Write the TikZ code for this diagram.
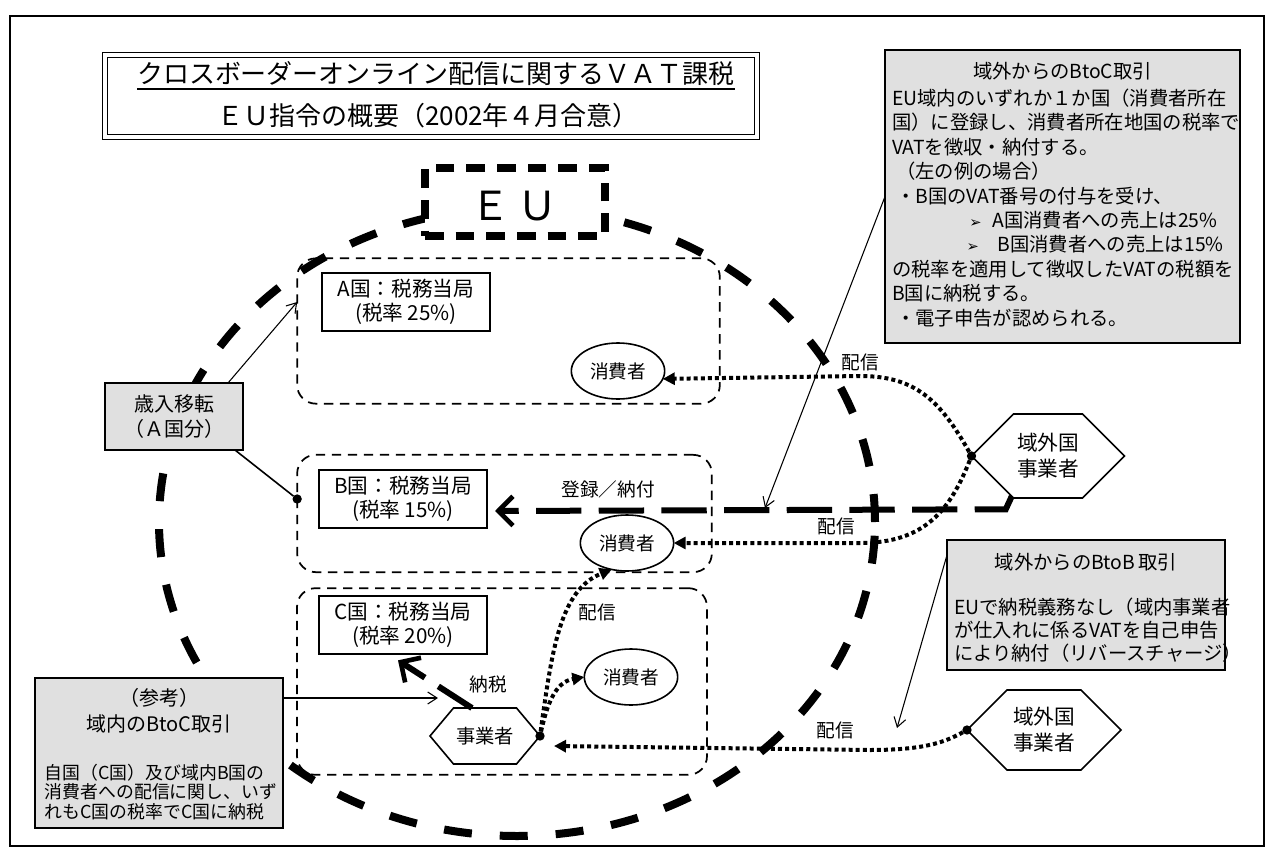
\documentclass[tikz,border=0pt]{standalone}
\usepackage{fontspec}
\setmainfont{Noto Sans CJK JP}
\newfontfamily\dejavu{DejaVu Sans}
\usetikzlibrary{arrows.meta,calc,shapes.geometric,shapes.symbols}
\begin{document}
\begin{tikzpicture}[x=0.75pt,y=-0.75pt,
  every node/.style={inner sep=0pt,outer sep=0pt},
  outerframe/.style={draw,line width=1.1pt},
  titlebox/.style={draw,line width=0.9pt,double=white,double distance=2.4pt,minimum width=489pt,minimum height=61.5pt},
  eubox/.style={draw,line width=5.5pt,dash pattern=on 14pt off 9pt,fill=white,minimum width=135pt,minimum height=51pt},
  bigring/.style={line width=6pt,dash pattern=on 21pt off 21pt},
  country/.style={draw,line width=1.3pt,dash pattern=on 7pt off 5pt,rounded corners=14pt},
  auth/.style={draw,line width=1.3pt,fill=white,minimum width=126pt,minimum height=44pt,align=center,font=\fontsize{15.5}{18}\selectfont},
  consumer/.style={draw,ellipse,line width=1.2pt,fill=white,minimum width=70pt,minimum height=42pt,font=\fontsize{14}{16}\selectfont},
  hexa/.style={draw,signal,signal to=east and west,line width=1.2pt,fill=white,align=center},
  note/.style={draw,line width=1.4pt,fill=black!12},
  ntext/.style={font=\fontsize{14.5}{18.3}\selectfont},
  lbl/.style={font=\fontsize{14}{16}\selectfont},
  thinarr/.style={line width=0.8pt,-{Straight Barb[length=7pt,width=9pt]}},
  thinline/.style={line width=1.2pt},
  dotarr/.style={line width=3pt,dash pattern=on 3pt off 2.3pt,-{Triangle[length=9pt,width=9pt]}},
  heavyarr/.style={line width=4.5pt,dash pattern=on 34pt off 13pt,-{Straight Barb[length=11pt,width=22pt,line width=3.5pt]}},
  blob/.style={fill,circle,minimum size=7pt},
]
\useasboundingbox (0,0) rectangle (1272,864);
% outer frame
\draw[outerframe] (10,16) rectangle (1264,846);
% big EU ring
\draw[bigring] (517,522) ellipse [x radius=268.5pt, y radius=235.5pt];
% title
\node[titlebox] (title) at (431,96) {};
\node[font=\fontsize{19.5}{22}\selectfont] (t1) at (436,74) {クロスボーダーオンライン配信に関するＶＡＴ課税};
\draw[line width=0.9pt] ($(t1.south west)+(0,3)$) -- ($(t1.south east)+(0,3)$);
\node[font=\fontsize{19.5}{22}\selectfont] (t2) at (428,116) {ＥＵ指令の概要（2002年４月合意）};
% EU box
\node[eubox] (eu) at (515,202) {};
\node[font=\fontsize{30}{32}\selectfont] (eut) at (514,206) {Ｅ\,Ｕ};
% country boxes
\node[country,minimum width=317pt,minimum height=109pt] (boxA) at (508.5,331) {};
\node[country,minimum width=311pt,minimum height=88pt] (boxB) at (504.5,513.5) {};
\node[country,minimum width=307.5pt,minimum height=140pt] (boxC) at (502,681.5) {};
% authorities
\node[auth] (authA) at (406,302) {A国：税務当局\\(税率 25\%)};
\node[auth] (authB) at (403,499) {B国：税務当局\\(税率 15\%)};
\node[auth] (authC) at (403,625) {C国：税務当局\\(税率 20\%)};
% consumers
\node[consumer] (consA) at (618,371) {消費者};
\node[consumer] (consB) at (627,543) {消費者};
\node[consumer] (consC) at (631,677) {消費者};
% businesses
\node[hexa,minimum width=114.75pt,minimum height=63pt,signal pointer angle=90,font=\fontsize{15.5}{19.5}\selectfont] (hexU) at (1048,456) {域外国\\事業者};
\node[hexa,minimum width=115.5pt,minimum height=60pt,signal pointer angle=90,font=\fontsize{15.5}{19.5}\selectfont] (hexL) at (1044,730) {域外国\\事業者};
\node[hexa,minimum width=82.5pt,minimum height=42pt,signal pointer angle=100,font=\fontsize{14.5}{17}\selectfont] (biz) at (485,736) {事業者};
% notes
\node[note,minimum width=266.25pt,minimum height=219.75pt] (btoc) at (1062.5,196.5) {};
\node[ntext,anchor=north] (btocH) at ($(btoc.north)+(0,12)$) {域外からのBtoC取引};
\node[ntext,anchor=north west,align=left] (btocB) at ($(btoc.north west)+(7,39)$) {EU域内のいずれか１か国（消費者所在\\国）に登録し、消費者所在地国の税率で\\VATを徴収・納付する。\\\hspace{3pt}（左の例の場合）\\\hspace{3pt}・B国のVAT番号の付与を受け、\\\hspace{58pt}{\dejavu\fontsize{11}{12}\selectfont ➢}\hspace{8pt}A国消費者への売上は25\%\\\hspace{56pt}{\dejavu\fontsize{11}{12}\selectfont ➢}\hspace{14pt}B国消費者への売上は15\%\\の税率を適用して徴収したVATの税額を\\B国に納税する。\\\hspace{3pt}・電子申告が認められる。};
\node[note,minimum width=208.5pt,minimum height=97.5pt] (btob) at (1086,605) {};
\node[ntext,anchor=north] (btobH) at ($(btob.north)+(0,13)$) {域外からのBtoB\,取引};
\node[ntext,anchor=south west,align=left,font=\fontsize{14.5}{17}\selectfont] (btobB) at ($(btob.south west)+(7,-8)$) {EUで納税義務なし（域内事業者\\が仕入れに係るVATを自己申告\\により納付（リバースチャージ）};
\node[note,minimum width=186pt,minimum height=112.5pt] (ref) at (159,753) {};
\node[ntext,anchor=north,align=center,font=\fontsize{15}{20}\selectfont] (refH) at ($(ref.north)+(0,10)$) {（参考）\\域内のBtoC取引};
\node[ntext,anchor=south,align=left,font=\fontsize{13.4}{14.8}\selectfont] (refB) at ($(ref.south)+(2,-8)$) {自国（C国）及び域内B国の\\消費者への配信に関し、いず\\れもC国の税率でC国に納税};
\node[note,minimum width=103.5pt,minimum height=50.25pt,align=center,font=\fontsize{15}{19}\selectfont] (rev) at (174,416.5) {歳入移転\\（Ａ国分）};
% dots
\node[blob] (dotB) at (boxB.west |- authB.center) {};
\node[blob] (dotU) at (hexU.west) {};
\node[blob] (dotL) at (hexL.west) {};
\node[blob] (dotZ) at (biz.east) {};
% revenue transfer
\draw[thinarr] ($(rev.north east)+(-15,0)$) -- (boxA.west |- authA.center);
\draw[thinline] ($(rev.south east)+(-8,0)$) -- (dotB);
% registration / payment
\coordinate (regEnd) at ($(authB.east)+(8,12)$);
\coordinate (hk) at (hexU.228);
\draw[heavyarr] (hk) -- ++(-6,13) -- (regEnd);
\node[lbl] (lreg) at (608,489) {登録／納付};
\coordinate (regMid) at (765,508);
\draw[thinarr] (btoc.west) -- (regMid);
% deliveries
\draw[dotarr] (dotU) .. controls (940,400) and (915,376) .. (860,376) -- (consA.-10);
\draw[dotarr] (dotU) .. controls (950,510) and (925,543) .. (860,543) -- (consB.east);
\coordinate (bizIn) at ($(biz.east)+(14,10)$);
\draw[dotarr] (dotL) .. controls (945,742) and (925,750) .. (870,750) -- (bizIn);
\draw[dotarr] (dotZ) .. controls (552,650) and (560,590) .. (consB.240);
\draw[dotarr] (dotZ) .. controls (547,705) and (555,682) .. (consC.west);
\node[lbl] (lA) at (860,362) {配信};
\node[lbl] (lB) at (836,526) {配信};
\node[lbl] (lC) at (597,612) {配信};
\node[lbl] (lD) at (835,730) {配信};
% tax payment in C
\coordinate (taxEnd) at ($(authC.south)+(-5,6)$);
\draw[heavyarr,dash pattern=on 30pt off 12pt] (biz.115) -- (taxEnd);
\node[lbl] (ltax) at (488,684) {納税};
% reference arrow
\coordinate (refEnd) at (438,698);
\draw[thinarr] ($(ref.north east)+(0,20)$) -- (refEnd);
% BtoB arrow
\coordinate (bbs) at ($(btob.north west)+(0,15)$);
\coordinate (bbEnd) at (897,728);
\draw[thinarr] (bbs) -- (bbEnd);
\end{tikzpicture}
\end{document}
